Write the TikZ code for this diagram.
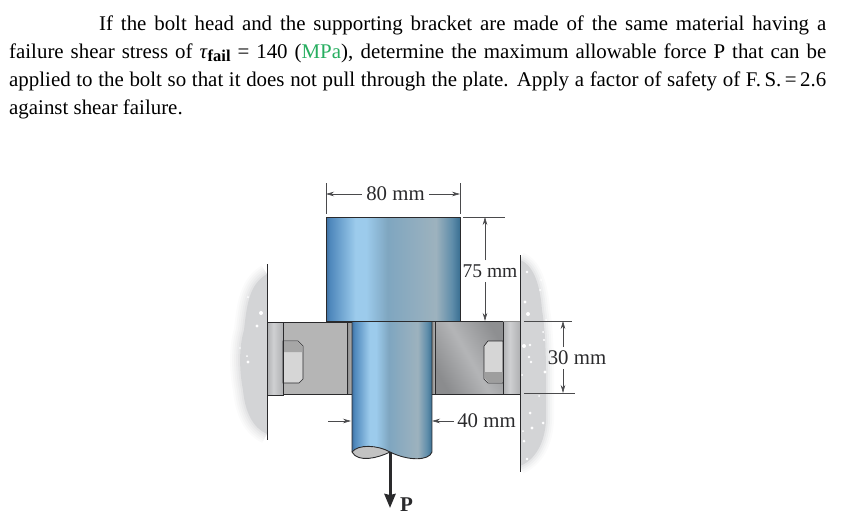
\documentclass[tikz,border=0pt]{standalone}
\usepackage{fontspec}
\setmainfont{Liberation Serif}
\usetikzlibrary{arrows.meta}
\definecolor{cylA}{HTML}{3F6F9F}\definecolor{cylB}{HTML}{4F88BC}\definecolor{cylC}{HTML}{9CCBEC}
\definecolor{cylD}{HTML}{7FA6C0}\definecolor{cylE}{HTML}{9DB2BE}\definecolor{cylF}{HTML}{5F8DAA}\definecolor{cylG}{HTML}{3A6F92}
\pgfdeclarehorizontalshading{cyl}{100bp}{
 color(0bp)=(cylA); color(25bp)=(cylA); color(26.5bp)=(cylB); color(36bp)=(cylC); color(40bp)=(cylC); color(48bp)=(cylD);
 color(66bp)=(cylE); color(72bp)=(cylF); color(75bp)=(cylG); color(100bp)=(cylG)}
\definecolor{grA}{HTML}{8B8C8E}\definecolor{grB}{HTML}{B4B5B7}\definecolor{grC}{HTML}{8E8F91}
\pgfdeclarehorizontalshading{bodyshade}{100bp}{
 color(0bp)=(grA); color(25bp)=(grA); color(50bp)=(grB); color(75bp)=(grC); color(100bp)=(grC)}
\definecolor{plA}{HTML}{B0B1B3}\definecolor{plB}{HTML}{CFD0D2}
\pgfdeclarehorizontalshading{plateshade}{100bp}{
 color(0bp)=(plA); color(25bp)=(plA); color(45bp)=(plB); color(75bp)=(plA); color(100bp)=(plA)}
\definecolor{wallc}{HTML}{D3D4D6}
\definecolor{inkc}{HTML}{2A2A2C}
\definecolor{mpac}{HTML}{27AE60}
\tikzset{
 wallblob/.style={fill=wallc,draw=none},
 edge/.style={draw=inkc,line width=1pt},
 dimline/.style={draw=inkc!85,line width=.55pt},
 dimarrow/.style={draw=inkc!85,line width=.55pt,-{Stealth[length=8pt,width=4.5pt]}},
 dimtext/.style={font=\fontsize{20.8}{22}\selectfont,text=inkc,inner sep=0pt},
 textline/.style={anchor=base west,inner sep=0pt,font=\fontsize{20.9}{24}\selectfont,text=black},
 speck/.style={fill=white,draw=none}
}
\newcommand{\jline}[1]{\makebox[#1pt][s]}
\begin{document}
\begin{tikzpicture}[x=1pt,y=-1pt]
\useasboundingbox (0,0) rectangle (849,525);
% text
\node[textline] (l1) at (99,30) {\jline{727}{If the bolt head and the supporting bracket are made of the same material having a}};
\node[textline] (l2) at (9,58) {\jline{817}{failure shear stress of \textit{τ}\raisebox{-3pt}{\fontsize{16.5}{16}\selectfont\bfseries fail} = 140 (\textcolor{mpac}{MPa}), determine the maximum allowable force P that can be}};
\node[textline] (l3) at (9,86) {\jline{817}{applied to the bolt so that it does not pull through the plate. Apply a factor of safety of F.\,S.\,=\,2.6}};
\node[textline] (l4) at (9,114) {against shear failure.};
% walls (soft blobs)
\begin{scope}
\clip (200,250) rectangle (267,450);
\foreach \w/\o in {20/.1,16/.12,12/.15,8/.2,4/.3}{
 \draw[wallc,line width=\w pt,opacity=\o,line join=round]
  (267,274) .. controls (250,284) and (247,302) .. (244,330) .. controls (238,350) and (240,375) .. (243,390) .. controls (245,412) and (253,428) .. (267,434);
}
\fill[wallblob] (267,274) .. controls (250,284) and (247,302) .. (244,330) .. controls (238,350) and (240,375) .. (243,390) .. controls (245,412) and (253,428) .. (267,434) -- cycle;
\end{scope}
\begin{scope}
\clip (520,245) rectangle (580,480);
\foreach \w/\o in {16/.1,12/.13,8/.2,4/.3}{
 \draw[wallc,line width=\w pt,opacity=\o,line join=round]
  (520,260) .. controls (532,264) and (540,282) .. (542,310) .. controls (547,340) and (546,380) .. (546,420) .. controls (545,443) and (535,460) .. (520,466);
}
\fill[wallblob] (520,260) .. controls (532,264) and (540,282) .. (542,310) .. controls (547,340) and (546,380) .. (546,420) .. controls (545,443) and (535,460) .. (520,466) -- cycle;
\end{scope}
\foreach \x/\y/\r in {261/313/2,257/326/1.6,248/297/1,248/362/1.6,247/356/1,240/348/.8,
 527/272/1.3,525/302/1.6,528/314/2,546/320/1,543/332/1,544/340/1.2,530/345/1.3,524/346/2,531/362/1.4,522/375/1,
 529/357/1.4,545/372/1.6,539/396/1,530/413/1.5,543/423/1.5,532/428/1.6,523/431/1,524/441/1.5,527/459/1.4,541/280/1,540/290/1}
 \fill[speck] (\x,\y) circle (\r pt);
% left bracket
\shade[shading=plateshade] (267,322) rectangle (283,395);
\fill[black!29] (283,322) rectangle (347,394);
\shade[left color=black!45,right color=black!30] (347,322) rectangle (352,394);
\path[fill=black!16,draw=inkc,line width=.6pt] (283,341) -- (298,341) -- (303,346) -- (303,379) -- (299,383) -- (283,383) -- cycle;
\fill[black!35] (283.5,341.6) -- (298,341.6) -- (302.4,346) -- (302.4,352) -- (283.5,352) -- cycle;
\draw[edge] (267,322) -- (352,322);
\draw[edge] (267,395) -- (283,395) -- (283,322);
\draw[edge] (283,394) -- (352,394);
\draw[edge] (347,322) -- (347,394);
% right bracket
\shade[shading=bodyshade,shading angle=30] (435,321) rectangle (503,394);
\shade[left color=black!48,right color=black!30] (431,321) rectangle (435,394);
\shade[shading=plateshade] (503,321) rectangle (520,394);
\path[fill=black!16,draw=inkc,line width=.6pt] (503,341) -- (488,341) -- (484,346) -- (484,379) -- (488,383) -- (503,383) -- cycle;
\fill[black!38] (502.7,372) -- (502.7,382.4) -- (488.5,382.4) -- (484.6,378) -- (484.6,372) -- cycle;
\draw[edge] (431,321) -- (503,321);
\draw[edge] (431,394) -- (520,394);
\draw[edge] (435,321) -- (435,394);
\draw[edge] (503,321) -- (503,394);
\draw[draw=black!45,line width=1pt] (503,321) -- (520,321);
% head and shaft
\shade[shading=cyl] (326,217) rectangle (460,321.5);
\shade[shading=cyl] (352,322) -- (432,322) -- (432,452) .. controls (429,461) and (408,461) .. (390,452) .. controls (380,447) and (362,444) .. (352,452) -- cycle;
\fill[black!24] (352,452) .. controls (358,444) and (378,445) .. (390,452) .. controls (378,458) and (358,463) .. (352,452) -- cycle;
\draw[edge] (326,321.5) -- (326,217) -- (460,217) -- (460,321.5);
\draw[edge,line width=1.2pt] (326,321.5) -- (460,321.5);
\draw[edge,line width=.9pt] (352,322) -- (352,452) .. controls (358,463) and (378,458) .. (390,452) .. controls (408,461) and (429,461) .. (432,452) -- (432,322);
\draw[edge,line width=.9pt] (352,452) .. controls (358,444) and (378,445) .. (390,452);
% wall lines
\draw[edge] (267,264) -- (267,440);
\draw[edge] (520,255) -- (520,472);
% dimensions
\node[dimtext] (d80) at (395.5,194) {80 mm};
\coordinate (hl) at (326,194); \coordinate (hr) at (460,194);
\draw[dimline] (326,183) -- (326,214);
\draw[dimline] (460,183) -- (460,214);
\draw[dimarrow] (d80.west) ++(-4,0) -- (hl);
\draw[dimarrow] (d80.east) ++(4,0) -- (hr);
\node[dimtext,font=\fontsize{19.5}{22}\selectfont] (d75) at (490,271) {75 mm};
\coordinate (vt) at (485,217); \coordinate (vb) at (485,321);
\draw[dimline] (463,217) -- (505,217);
\draw[dimarrow] (485,260) -- (vt);
\draw[dimarrow] (485,282) -- (vb);
\node[dimtext] (d30) at (577,358) {30 mm};
\coordinate (ut) at (563,321); \coordinate (ub) at (563,393);
\draw[dimline] (524,321) -- (572,321);
\draw[dimline] (524,393) -- (575,393);
\draw[dimarrow] (563,347) -- (ut);
\draw[dimarrow] (563,369) -- (ub);
\node[dimtext] (d40) at (486.5,421) {40 mm};
\coordinate (sl) at (432,421); \coordinate (sr) at (351,421); \coordinate (srf) at (328,421);
\draw[dimarrow] (d40.west) ++(-3,0) -- (sl);
\draw[dimarrow] (srf) -- (sr);
% force
\coordinate (pt) at (390,452); \coordinate (pb) at (390,508);
\draw[draw=inkc,line width=3pt,-{Stealth[length=14pt,width=11pt,inset=1pt]}] (pt) -- (pb);
\node[inner sep=0pt,anchor=base west,text=inkc,font=\fontsize{21}{22}\selectfont\bfseries] (p) at (400,511) {P};
\end{tikzpicture}
\end{document}
